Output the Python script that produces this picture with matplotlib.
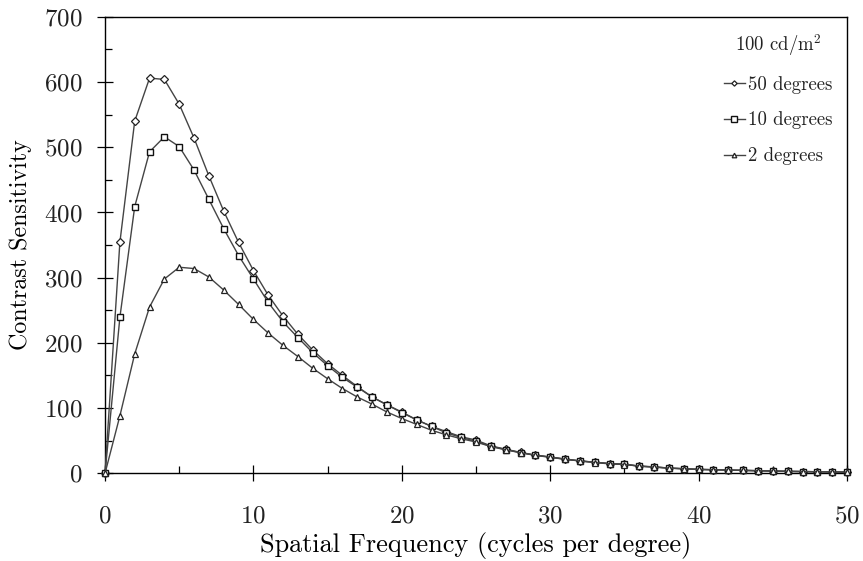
import matplotlib
matplotlib.use("Agg")
import matplotlib.pyplot as plt
from matplotlib.ticker import MultipleLocator

plt.rcParams['font.family'] = 'serif'
plt.rcParams['font.serif'] = ['cmr10']
plt.rcParams['mathtext.fontset'] = 'cm'
plt.rcParams['axes.formatter.use_mathtext'] = True
plt.rcParams['text.color'] = '#222222'
plt.rcParams['xtick.labelcolor'] = '#222222'
plt.rcParams['ytick.labelcolor'] = '#222222'

freq = list(range(0, 51))
deg50 = [0, 354, 540, 606, 604, 566, 514, 456, 402, 354, 311, 273, 241, 213, 189, 168, 150, 133, 117, 105,
         94, 82, 72, 64, 56, 51, 42, 37, 32, 28, 25, 22, 19, 17, 15, 14, 11, 10, 8, 7,
         6, 5.5, 5, 4.5, 4, 3.5, 3, 2.7, 2.4, 2.1, 1.8]
deg10 = [0, 239, 409, 493, 516, 501, 465, 420, 375, 334, 298, 262, 232, 208, 185, 165, 147, 132, 117, 105,
         93, 82, 72, 62, 55, 49, 41.5, 36.4, 31.8, 27.7, 25, 21.5, 19, 17, 15, 14, 11, 9.7, 8, 7,
         6, 5.5, 5, 4.5, 4, 3.5, 3, 2.7, 2.4, 2.1, 1.8]
deg2 = [0, 88, 183, 255, 298, 316, 314, 301, 281, 259, 236, 215, 196, 179, 161, 145, 130, 117, 106, 94,
        84, 75, 66, 59, 53, 48, 41, 36, 31.5, 27.5, 24.5, 21.5, 19, 16.5, 14.5, 13.5, 11, 9.5, 8, 7,
        6, 5.5, 5, 4.5, 4, 3.5, 3, 2.7, 2.4, 2.1, 1.8]
labels = ['50 degrees', '10 degrees', '2 degrees']

fig = plt.figure(figsize=(8.63, 5.61), dpi=100)
ax = fig.add_axes([0.1217, 0.1563, 0.8598, 0.8137])

lc = '#444444'
ax.plot(freq, deg50, color=lc, lw=1.0, marker='D', ms=3.6, mfc='white', mec='#222222', mew=0.9,
        label=labels[0], clip_on=False, zorder=3)
ax.plot(freq, deg10, color=lc, lw=1.0, marker='s', ms=5.0, mfc='white', mec='#111111', mew=1.0,
        label=labels[1], clip_on=False, zorder=3)
ax.plot(freq, deg2, color=lc, lw=1.0, marker='^', ms=4.4, mfc='white', mec='#222222', mew=0.9,
        label=labels[2], clip_on=False, zorder=3)

ax.set_xlim(0, 50)
ax.set_ylim(0, 700)
ax.xaxis.set_major_locator(MultipleLocator(10))
ax.xaxis.set_minor_locator(MultipleLocator(5))
ax.yaxis.set_major_locator(MultipleLocator(100))
ax.yaxis.set_minor_locator(MultipleLocator(50))
ax.tick_params(which='major', direction='inout', length=12, width=0.9, labelsize=18)
ax.tick_params(axis='x', which='major', pad=17)
ax.tick_params(axis='y', which='major', pad=10)
ax.tick_params(which='minor', direction='in', length=5, width=0.9)
for s in ax.spines.values():
    s.set_linewidth(1.0)

xl = ax.set_xlabel('Spatial Frequency (cycles per degree)', fontsize=18, labelpad=3)
yl = ax.set_ylabel('Contrast Sensitivity', fontsize=18, labelpad=9)

# fit label sizes to the reference's measured extents
fig.canvas.draw()
r = fig.canvas.get_renderer()
wx = xl.get_window_extent(r).width
hy = yl.get_window_extent(r).height
xl.set_fontsize(18 * 433.0 / wx)
yl.set_fontsize(18 * 210.0 / hy)

leg = ax.legend(loc='upper right', frameon=False, title='100 cd/m$^2$', fontsize=13.5, title_fontsize=13.5,
                handlelength=1.1, handletextpad=0.15, labelspacing=0.95, borderaxespad=0.4,
                markerscale=0.75)

fig.savefig('out.png', dpi=100)
